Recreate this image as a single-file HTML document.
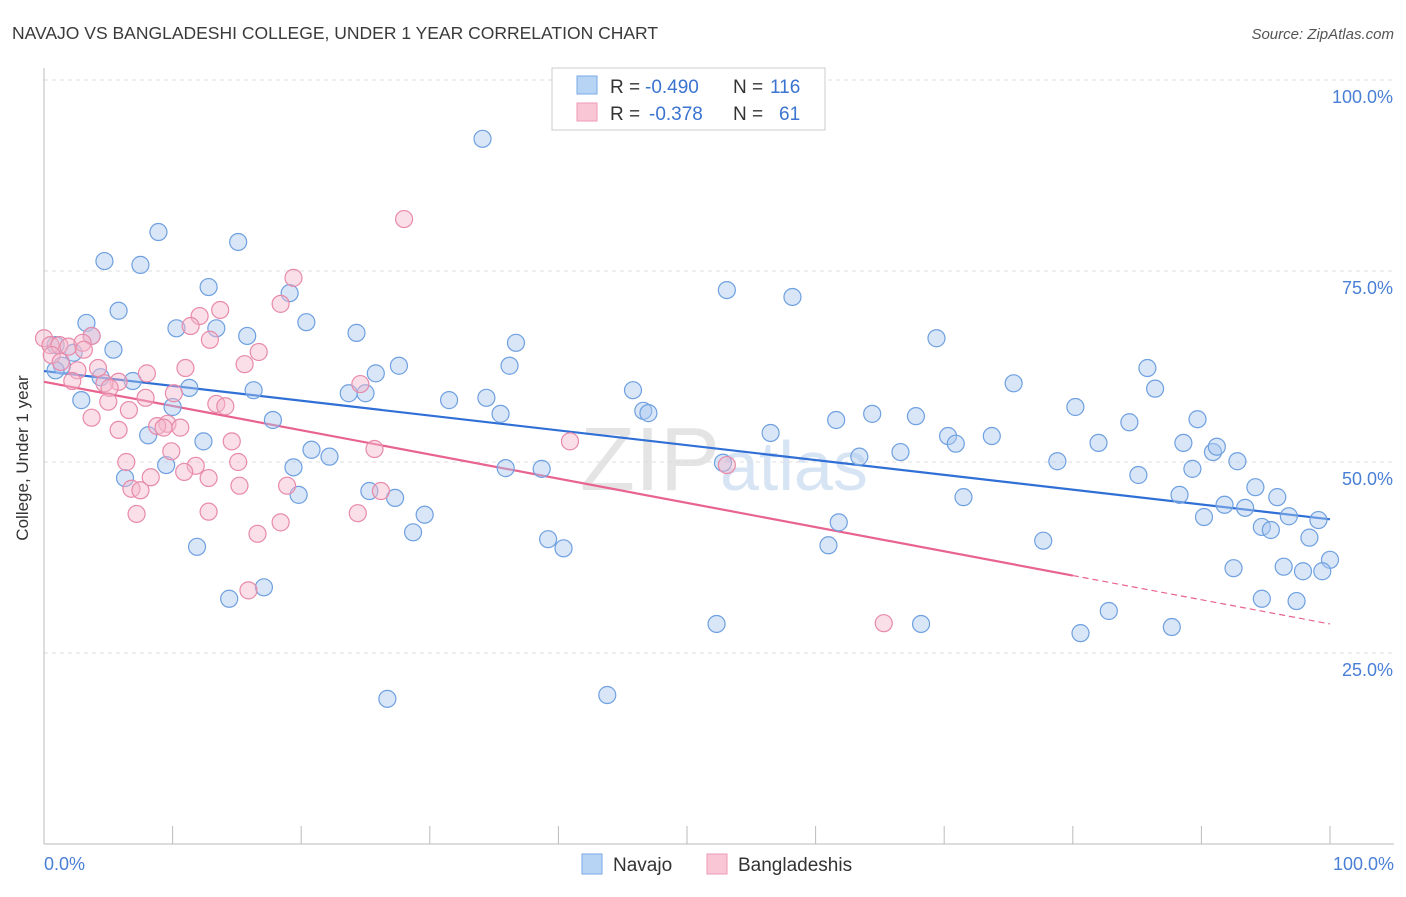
<!DOCTYPE html>
<html><head><meta charset="utf-8"><style>
body{margin:0;background:#fff;font-family:"Liberation Sans",sans-serif;}
svg text{font-family:"Liberation Sans",sans-serif;}
</style></head><body>
<svg id="chart" width="1406" height="892" xmlns="http://www.w3.org/2000/svg">
<text x="12" y="39" font-size="17.5" fill="#3a3a3a">NAVAJO VS BANGLADESHI COLLEGE, UNDER 1 YEAR CORRELATION CHART</text>
<text x="1394" y="39" font-size="15" fill="#555" text-anchor="end" font-style="italic">Source: ZipAtlas.com</text>
<text x="720" y="490" font-size="90" fill="#e4e4e4" text-anchor="end" font-family="Liberation Serif">ZIP</text>
<text x="720" y="490" font-size="70" fill="#d6e4f4">atlas</text>
<g id="grid"></g><g id="axes"></g><g id="lines"></g><g id="pts"></g>
<text x="28" y="458" font-size="17" fill="#333" text-anchor="middle" transform="rotate(-90 28 458)">College, Under 1 year</text>
<text x="44" y="870" font-size="18" fill="#4a7fd6">0.0%</text>
<text x="1394" y="870" font-size="18" fill="#4a7fd6" text-anchor="end">100.0%</text>
<g>
<rect x="552" y="68" width="273" height="62" fill="#fff" stroke="#ccc"/>
<rect x="577" y="76" width="20" height="18" fill="#b8d4f4" stroke="#7aaae8"/>
<rect x="577" y="103" width="20" height="18" fill="#f9c6d6" stroke="#ee9ab6"/>
<text x="610" y="93" font-size="19" fill="#333">R =</text>
<text x="645" y="93" font-size="19" fill="#3a74d0">-0.490</text>
<text x="733" y="93" font-size="19" fill="#333">N =</text>
<text x="770" y="93" font-size="19" fill="#3a74d0">116</text>
<text x="610" y="120" font-size="19" fill="#333">R =</text>
<text x="649" y="120" font-size="19" fill="#3a74d0">-0.378</text>
<text x="733" y="120" font-size="19" fill="#333">N =</text>
<text x="779" y="120" font-size="19" fill="#3a74d0">61</text>
</g>
<g>
<rect x="582" y="854" width="20" height="20" fill="#b8d4f4" stroke="#7aaae8"/>
<text x="613" y="871" font-size="19" fill="#333">Navajo</text>
<rect x="707" y="854" width="20" height="20" fill="#f9c6d6" stroke="#ee9ab6"/>
<text x="738" y="871" font-size="19" fill="#333">Bangladeshis</text>
</g>
</svg>
<script>
const yTicks=[25,50,75,100];
const yTickLabels=["25.0%","50.0%","75.0%","100.0%"];
const xTicks=[10,20,30,40,50,60,70,80,90,100];
const navajoX=[34.1,8.9,15.1,4.7,7.5,12.8,19.1,5.8,20.4,10.3,13.4,15.8,24.3,3.3,3.7,0.9,5.4,2.3,1.4,0.9,27.6,25.8,36.7,36.2,4.4,6.9,11.3,16.3,23.7,25.0,31.5,34.4,2.9,10.0,35.5,45.8,46.6,47.0,17.8,8.1,12.4,20.8,22.2,19.4,9.5,35.9,38.7,53.1,58.2,69.4,75.4,85.8,86.4,80.2,89.7,56.5,61.6,64.4,67.8,70.3,70.9,73.7,82.0,84.4,88.6,90.9,91.2,78.8,92.8,89.3,85.1,63.4,66.6,52.8,6.3,19.8,25.3,27.3,29.6,28.7,71.5,88.3,91.8,90.2,94.2,95.9,94.7,96.8,95.4,93.4,99.1,98.4,100.0,61.8,39.2,40.4,61.0,77.7,11.9,14.4,17.1,52.3,68.2,82.8,80.6,87.7,92.5,96.4,97.9,99.4,94.7,97.4,26.7,43.8];
const navajoY=[92.3,80.1,78.8,76.3,75.8,72.9,72.1,69.8,68.3,67.5,67.5,66.5,66.9,68.2,66.5,65.3,64.7,64.3,62.6,62.0,62.6,61.6,65.6,62.6,61.1,60.6,59.7,59.4,59.0,59.0,58.1,58.4,58.1,57.2,56.3,59.4,56.7,56.4,55.5,53.5,52.7,51.6,50.7,49.3,49.6,49.2,49.1,72.5,71.6,66.2,60.3,62.3,59.6,57.2,55.6,53.8,55.5,56.3,56.0,53.4,52.4,53.4,52.5,55.2,52.5,51.3,52.0,50.1,50.1,49.1,48.3,50.7,51.3,49.9,47.9,45.7,46.2,45.3,43.1,40.8,45.4,45.7,44.4,42.8,46.7,45.4,41.5,42.9,41.1,44.0,42.4,40.1,37.2,42.1,39.9,38.7,39.1,39.7,38.9,32.1,33.6,28.8,28.8,30.5,27.6,28.4,36.1,36.3,35.7,35.7,32.1,31.8,19.0,19.5];
const bangX=[28.0,19.4,18.4,13.7,12.1,11.4,12.9,3.7,0,0.5,1.2,1.9,3.0,3.1,0.6,1.3,2.6,4.2,5.8,4.7,2.2,5.1,11.0,8.0,16.7,15.6,10.1,7.9,5.0,13.4,14.1,6.6,3.7,9.6,8.8,10.6,9.3,5.8,14.6,9.9,40.9,25.7,6.4,15.1,11.8,10.9,8.3,12.8,15.2,6.8,7.5,18.9,26.2,7.2,12.8,24.4,18.4,16.6,15.9,53.1,65.3,24.6];
const bangY=[81.8,74.1,70.7,69.9,69.1,67.8,66.0,66.5,66.2,65.3,65.3,65.1,65.6,64.7,64.0,63.1,62.0,62.3,60.5,60.3,60.6,59.7,62.3,61.6,64.4,62.8,59.0,58.4,57.9,57.6,57.3,56.8,55.8,55.0,54.7,54.5,54.5,54.2,52.7,51.4,52.7,51.7,50.0,50.0,49.5,48.7,48.0,47.9,46.9,46.5,46.3,46.9,46.2,43.2,43.5,43.3,42.1,40.6,33.2,49.6,28.9,60.2];
const navajoFit=[61.9,-0.194];
const bangFit=[60.5,-0.317];
const bangSolidEnd=80;
const NS="http://www.w3.org/2000/svg";
const X=v=>44+v*12.86, Y=v=>844-v*7.64;
function mk(tag,attrs,parent){const e=document.createElementNS(NS,tag);for(const k in attrs)e.setAttribute(k,attrs[k]);document.getElementById(parent).appendChild(e);return e;}
yTicks.forEach((t,i)=>{
 const l=mk('line',{x1:44,x2:1394,y1:Y(t),y2:Y(t),stroke:'#ddd','stroke-dasharray':'4,4'},'grid');
 
 
 const tx=mk('text',{x:1393,y:Y(t)+23,'font-size':18,fill:'#4a7fd6','text-anchor':'end'},'grid');
 tx.textContent=yTickLabels[i];
 
 
});
const ax=mk('line',{x1:44,x2:1394,y1:844,y2:844,stroke:'#bbb'},'axes');


const ay=mk('line',{x1:44,x2:44,y1:68,y2:844,stroke:'#bbb'},'axes');


xTicks.forEach(t=>{
 const l=mk('line',{x1:X(t),x2:X(t),y1:826,y2:844,stroke:'#bbb'},'axes');
 
 
});
function pts(xs,ys,fill,stroke,name){xs.forEach((x,i)=>{
 const c=mk('circle',{cx:X(x),cy:Y(ys[i]),r:8.5,fill:fill,'fill-opacity':0.45,stroke:stroke,'stroke-width':1.2},'pts');
 
 
});}
pts(navajoX,navajoY,'#a8c8f0','#6fa0e0','navajo-point');
pts(bangX,bangY,'#f5b8cc','#e88aaa','bangladeshi-point');
const f=(p,x)=>p[0]+p[1]*x;
const bl=mk('line',{x1:X(0),y1:Y(f(navajoFit,0)),x2:X(100),y2:Y(f(navajoFit,100)),stroke:'#2f6fd6','stroke-width':2.2},'lines');


const pl=mk('line',{x1:X(0),y1:Y(f(bangFit,0)),x2:X(bangSolidEnd),y2:Y(f(bangFit,bangSolidEnd)),stroke:'#e8638e','stroke-width':2.2},'lines');


const pd=mk('line',{x1:X(bangSolidEnd),y1:Y(f(bangFit,bangSolidEnd)),x2:X(100),y2:Y(f(bangFit,100)),stroke:'#e8638e','stroke-width':1.2,'stroke-dasharray':'6,4'},'lines');


</script>
</body></html>
